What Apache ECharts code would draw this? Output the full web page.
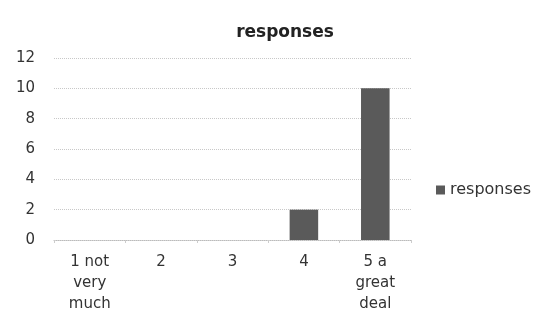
<!DOCTYPE html>
<html>
<head>
<meta charset="utf-8">
<script src="https://cdn.jsdelivr.net/npm/echarts@6/dist/echarts.min.js"></script>
<style>
  html, body { margin: 0; padding: 0; background: #fff; }
  #chart { width: 548px; height: 329px; }
</style>
</head>
<body>
<div id="chart"></div>
<script>
// Rating categories and the number of responses for each
const categories = ['1 not\nvery\nmuch', '2', '3', '4', '5 a\ngreat\ndeal'];
const responses = [0, 0, 0, 2, 10];
const yTicks = [0, 2, 4, 6, 8, 10, 12];

const font = '"DejaVu Sans", sans-serif';
const chart = echarts.init(document.getElementById('chart'));

chart.setOption({
  animation: false,
  backgroundColor: '#ffffff',
  title: {
    text: 'responses',
    left: 280,
    top: 19,
    textAlign: 'center',
    textStyle: { fontFamily: font, fontSize: 17, fontWeight: 'bold', color: '#222' }
  },
  legend: {
    data: ['responses'],
    left: 431,
    top: 177,
    itemWidth: 9,
    itemHeight: 9,
    itemGap: 3,
    icon: 'rect',
    textStyle: { fontFamily: font, fontSize: 16, color: '#333' }
  },
  grid: { left: 54, right: 137, top: 58, bottom: 89 },
  xAxis: {
    type: 'category',
    data: categories,
    axisLine: { lineStyle: { color: '#bbb', type: 'dotted' } },
    axisTick: { show: true, length: 3, lineStyle: { color: '#ccc' } },
    axisLabel: { fontFamily: font, fontSize: 15, color: '#333', lineHeight: 21, margin: 12, interval: 0 }
  },
  yAxis: {
    type: 'value',
    min: yTicks[0],
    max: yTicks[yTicks.length - 1],
    interval: 2,
    axisLine: { show: false },
    axisTick: { show: false },
    splitLine: { lineStyle: { color: '#c8c8c8', type: 'dotted' } },
    axisLabel: { fontFamily: font, fontSize: 15, color: '#333', margin: 19 }
  },
  series: [{
    name: 'responses',
    type: 'bar',
    data: responses,
    barWidth: '40%',
    itemStyle: { color: '#5a5a5a' }
  }]
});
</script>
</body>
</html>
